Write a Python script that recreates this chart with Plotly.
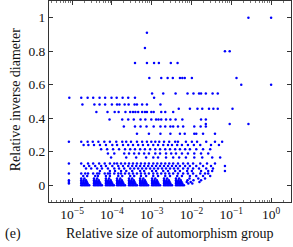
import plotly.graph_objects as go

# y levels (relative inverse diameter) and x positions given as log10 of relative automorphism group size
lvl_y = [1.0, 0.91, 0.82, 0.80, 0.73, 0.64, 0.60, 0.548, 0.522, 0.482, 0.456, 0.437,
         0.393, 0.365, 0.35, 0.308, 0.26, 0.24, 0.215, 0.19, 0.165, 0.13, 0.115, 0.10,
         0.085, 0.07, 0.055, 0.04, 0.03, 0.02, 0.01, 0.0]

r1000 = [-0.57, 0.0]
r0910 = [-3.12]
r0820 = [-3.17]
r0800 = [-1.16, -1.04]
r0730 = [-3.42, -3.12, -2.94, -2.82, -2.52, -2.35]
r0640 = [-3.06, -2.76, -2.60, -2.47, -2.29, -2.23, -2.17, -1.99, -0.87]
r0600 = [-0.75, 0.0]
r0548 = [-2.99, -2.71, -2.40, -2.10, -1.95, -1.81, -1.76, -1.64, -1.47, -1.34]
r0522 = [-5.07, -4.77, -4.61, -4.47, -4.31, -4.17, -4.01, -3.88, -3.73, -3.59, -3.42, -2.94]
r0482 = [-4.74, -4.44, -4.31, -4.17, -4.00, -3.87, -3.81, -3.68, -3.58, -3.43, -3.37,
         -3.24, -3.12, -2.78]
r0456 = [-2.32, -2.04, -1.85, -1.73, -1.56, -1.45, -1.34, -0.97]
r0437 = [-4.39, -4.11, -3.93, -3.83, -3.66, -3.54, -3.47, -3.41, -3.34, -3.24, -3.17,
         -3.12, -3.01, -2.95, -2.76, -2.66, -2.46]
r0393 = [-4.06, -3.74, -3.59, -3.45, -3.28, -3.16, -3.01, -2.89, -2.83, -2.76, -2.64,
         -2.53, -2.40, -2.23, -1.76, -1.64]
r0365 = [-1.64, -1.04, -0.57]
r0350 = [-3.70, -3.42, -3.28, -3.13, -2.95, -2.78, -2.66, -2.53, -2.46, -2.34, -2.21,
         -1.93, -1.77, -1.64]
r0308 = [-3.37, -3.07, -2.78, -2.53, -2.29, -2.17, -1.93, -1.88, -1.71, -1.41]
r0260 = [-5.08, -4.77, -4.61, -4.48, -4.34, -4.19, -4.05, -3.89, -3.74, -3.64, -3.52,
         -3.37, -3.24, -3.12, -3.01, -2.91, -2.81, -2.69, -2.56, -2.41, -2.34, -2.14,
         -1.99, -1.86, -1.63, -1.41, -1.23]
r0240 = [-4.71, -4.59, -4.45, -4.30, -4.15, -3.99, -3.87, -3.72, -3.59, -3.47, -3.34,
         -3.22, -3.09, -2.96, -2.84, -2.71, -2.59, -2.49, -2.36, -2.24, -2.09, -1.94,
         -1.78, -1.51, -1.31]
r0215 = [-4.27, -4.12, -3.97, -3.82, -3.67, -3.54, -3.42, -3.29, -3.17, -3.04, -2.91,
         -2.79, -2.66, -2.54, -2.41, -2.29, -2.16, -2.04, -1.88, -1.71, -1.53]
r0190 = [-4.10, -3.94, -3.69, -3.57, -3.44, -3.32, -3.19, -3.07, -2.91, -2.79, -2.64,
         -2.51, -2.39, -2.24, -2.09, -1.93, -1.76, -1.58]
r0165 = [-4.02, -3.64, -3.39, -3.14, -2.96, -2.84, -2.64, -2.46, -2.31, -2.14, -1.93,
         -1.73, -1.48, -1.28]
r0130 = [-5.08, -4.77, -4.60, -4.47, -4.32, -4.18, -4.05, -3.94, -3.87, -3.77, -3.67,
         -3.57, -3.47, -3.37, -3.27, -3.17, -3.07, -2.96, -2.86, -2.76, -2.66, -2.56,
         -2.46, -2.34, -2.21, -2.09, -1.96, -1.78, -1.61, -1.41]
r0115 = [-4.70, -4.57, -4.42, -4.27, -4.15, -3.99, -3.84, -3.72, -3.59, -3.49, -3.39,
         -3.29, -3.19, -3.09, -2.99, -2.89, -2.79, -2.69, -2.59, -2.49, -2.39, -2.29,
         -2.16, -2.04, -1.88, -1.71, -1.51, -1.16]
r0100 = [-4.65, -4.52, -4.37, -4.25, -4.10, -3.94, -3.82, -3.69, -3.54, -3.44, -3.34,
         -3.24, -3.14, -3.04, -2.94, -2.84, -2.74, -2.64, -2.54, -2.44, -2.34, -2.21,
         -2.09, -1.96, -1.81, -1.63, -1.46]
r0085 = [-4.30, -4.05, -3.92, -3.77, -3.64, -3.49, -3.29, -3.19, -2.99, -2.89, -2.71,
         -2.59, -2.41, -2.29, -2.11, -1.99, -1.76, -1.58, -1.48, -1.16]
r0070 = [-5.08, -4.77, -4.67, -4.60, -4.47, -4.37, -4.32, -4.18, -4.10, -4.05, -3.94,
         -3.84, -3.77, -3.67, -3.57, -3.47, -3.37, -3.27, -3.17, -3.07, -2.96, -2.86,
         -2.76, -2.66, -2.56, -2.46, -2.34, -2.21, -2.09, -1.96, -1.78, -1.66, -1.58]
r0055 = [-4.72, -4.62, -4.42, -4.35, -4.15, -4.05, -3.84, -3.74, -3.54, -3.44, -3.27,
         -3.14, -2.96, -2.84, -2.66, -2.54, -2.36, -2.24, -2.04, -1.88, -1.71, -1.53]
r0040 = [-4.77, -4.69, -4.45, -4.37, -4.15, -4.07, -3.87, -3.79, -3.57, -3.49, -3.29,
         -3.21, -2.99, -2.91, -2.69, -2.61, -2.39, -2.31, -2.05, -1.83, -1.66]
r0030 = [-5.08, -4.77, -4.71, -4.65, -4.45, -4.39, -4.33, -4.15, -4.09, -4.03, -3.87,
         -3.81, -3.75, -3.57, -3.51, -3.45, -3.29, -3.23, -3.17, -2.99, -2.93, -2.87,
         -2.69, -2.63, -2.57, -2.39, -2.33, -2.27, -2.10, -1.95, -1.76]
r0020 = [-5.08, -4.77, -4.72, -4.67, -4.63, -4.45, -4.40, -4.35, -4.31, -4.15, -4.10,
         -4.05, -4.01, -3.87, -3.82, -3.77, -3.73, -3.57, -3.52, -3.47, -3.43, -3.29,
         -3.24, -3.19, -3.15, -2.99, -2.94, -2.89, -2.85, -2.69, -2.64, -2.59, -2.55,
         -2.39, -2.34, -2.29, -2.25, -2.12, -2.02, -1.80]
r0010 = [-5.08, -4.77, -4.73, -4.69, -4.65, -4.61, -4.45, -4.41, -4.37, -4.33, -4.29,
         -4.15, -4.11, -4.07, -4.03, -3.99, -3.87, -3.83, -3.79, -3.75, -3.71, -3.57,
         -3.53, -3.49, -3.45, -3.41, -3.29, -3.25, -3.21, -3.17, -3.13, -2.99, -2.95,
         -2.91, -2.87, -2.83, -2.69, -2.65, -2.61, -2.57, -2.53, -2.39, -2.35, -2.31,
         -2.27, -2.23, -2.08, -1.98]
r0000 = [-4.77, -4.73, -4.69, -4.65, -4.61, -4.57, -4.45, -4.41, -4.37, -4.33, -4.29,
         -4.25, -4.15, -4.11, -4.07, -4.03, -3.99, -3.95, -3.87, -3.83, -3.79, -3.75,
         -3.71, -3.67, -3.57, -3.53, -3.49, -3.45, -3.41, -3.37, -3.29, -3.25, -3.21,
         -3.17, -3.13, -3.09, -2.99, -2.95, -2.91, -2.87, -2.83, -2.79, -2.69, -2.65,
         -2.61, -2.57, -2.53, -2.49, -2.39, -2.35, -2.31, -2.27, -2.23, -2.19]

lvl_x = [r1000, r0910, r0820, r0800, r0730, r0640, r0600, r0548, r0522, r0482, r0456,
         r0437, r0393, r0365, r0350, r0308, r0260, r0240, r0215, r0190, r0165, r0130,
         r0115, r0100, r0085, r0070, r0055, r0040, r0030, r0020, r0010, r0000]

xtick_exp = [-5, -4, -3, -2, -1, 0]
xtick_txt = ["10<sup>\u22125</sup>", "10<sup>\u22124</sup>", "10<sup>\u22123</sup>",
             "10<sup>\u22122</sup>", "10<sup>\u22121</sup>", "10<sup>0</sup>"]
ytick_vals = [0, 0.2, 0.4, 0.6, 0.8, 1]
ytick_txt = ["0", "0.2", "0.4", "0.6", "0.8", "1"]

xs, ys = [], []
for yv, row in zip(lvl_y, lvl_x):
    for e in row:
        xs.append(10 ** e)
        ys.append(yv)

FONT = "Liberation Serif"
AX = "#333333"

fig = go.Figure(go.Scatter(x=xs, y=ys, mode="markers",
                           marker=dict(color="#0000ff", size=2.5, line=dict(width=0)),
                           hoverinfo="skip"))

fig.update_layout(
    width=293, height=247,
    margin=dict(l=49, r=2, t=1, b=45),
    paper_bgcolor="white", plot_bgcolor="white",
    showlegend=False,
    font=dict(family=FONT, size=13.5, color="#111111"),
    xaxis=dict(type="log", range=[-5.58, 0.5],
               tickvals=[10 ** e for e in xtick_exp], ticktext=xtick_txt,
               ticks="inside", ticklen=4, tickcolor=AX, tickwidth=0.8,
               showline=True, linecolor=AX, linewidth=1, mirror="allticks",
               showgrid=False, zeroline=False,
               minor=dict(ticks="inside", ticklen=2, tickcolor="#777777",
                          tickwidth=0.7, showgrid=False, dtick="D1"),
               tickfont=dict(family=FONT, size=13.5)),
    yaxis=dict(range=[-0.1, 1.1], tickvals=ytick_vals, ticktext=ytick_txt,
               ticks="inside", ticklen=4, tickcolor=AX, tickwidth=0.8,
               showline=True, linecolor=AX, linewidth=1, mirror="allticks",
               showgrid=False, zeroline=False,
               tickfont=dict(family=FONT, size=13.5)),
    annotations=[
        dict(text="Relative size of automorphism group", xref="paper", yref="paper",
             x=0.5, y=-0.159, xanchor="center", yanchor="middle", showarrow=False,
             font=dict(family=FONT, size=14)),
        dict(text="(e)", xref="paper", yref="paper",
             x=-0.149, y=-0.159, xanchor="center", yanchor="middle", showarrow=False,
             font=dict(family=FONT, size=14)),
        dict(text="Relative inverse diameter", xref="paper", yref="paper",
             x=-0.14, y=0.507, xanchor="center", yanchor="middle", showarrow=False,
             textangle=-90, font=dict(family=FONT, size=14)),
    ],
)

fig.write_html("out.html", config={"displayModeBar": False},
               post_script="document.body.style.margin='0';")
